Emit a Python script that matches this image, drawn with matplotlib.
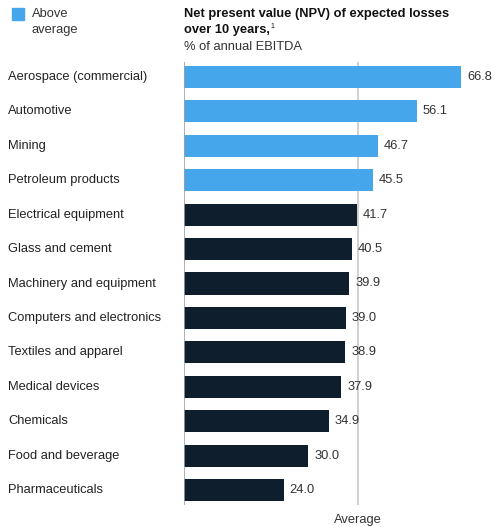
import numpy as np
import matplotlib.pyplot as plt

plt.rcParams['font.family'] = ['Liberation Sans', 'DejaVu Sans']

categories = ['Aerospace (commercial)', 'Automotive', 'Mining', 'Petroleum products',
              'Electrical equipment', 'Glass and cement', 'Machinery and equipment',
              'Computers and electronics', 'Textiles and apparel', 'Medical devices',
              'Chemicals', 'Food and beverage', 'Pharmaceuticals']
values = [66.8, 56.1, 46.7, 45.5, 41.7, 40.5, 39.9, 39.0, 38.9, 37.9, 34.9, 30.0, 24.0]
average = 42.0

blue = '#46A6EC'
dark = '#0E1E2D'
fs = 9.3

def main():
    fig = plt.figure(figsize=(4.97, 5.27), dpi=100)
    ax = fig.add_axes([184 / 497, 1 - 505 / 527, 1 - 184 / 497, (505 - 62) / 527])

    y = np.arange(len(categories))
    colors = [blue if v > average else dark for v in values]
    ax.barh(y, values, height=0.64, color=colors, zorder=2)
    ax.axvline(average, color='#C8C8C8', lw=1.2, zorder=1)
    ax.axvline(0, color='#A0A0A0', lw=1.2, zorder=3)

    for yi, v in zip(y, values):
        ax.text(v + 1.5, yi, '{:.1f}'.format(v), va='center', ha='left',
                fontsize=fs, color='#333333')
    for yi, c in zip(y, categories):
        ax.text(8 / 497, 1 - (77 + yi * 34.42) / 527, c, transform=fig.transFigure,
                va='center', ha='left', fontsize=fs, color='#222222')

    ax.set_xlim(0, (497 - 184) / 4.147)
    ax.set_ylim(12.436, -0.436)
    ax.axis('off')

    fig.text(358 / 497, 1 - 520 / 527, 'Average', ha='center', va='center',
             fontsize=fs, color='#333333')

    # titulo
    fig.text(184 / 497, 1 - 14 / 527, 'Net present value (NPV) of expected losses',
             fontsize=fs, fontweight='bold', va='center', ha='left', color='#111111')
    fig.text(184 / 497, 1 - 30 / 527, 'over 10 years,',
             fontsize=fs, fontweight='bold', va='center', ha='left', color='#111111')
    fig.text(270 / 497, 1 - 27 / 527, '1',
             fontsize=5, va='center', ha='left', color='#111111')
    fig.text(184 / 497, 1 - 47 / 527, '% of annual EBITDA',
             fontsize=fs, va='center', ha='left', color='#333333')

    # leyenda
    fig.patches.append(plt.Rectangle((12 / 497, 1 - 20 / 527), 12 / 497, 12 / 527,
                                     transform=fig.transFigure, color=blue))
    fig.text(32 / 497, 1 - 14 / 527, 'Above', fontsize=fs, va='center', color='#333333')
    fig.text(32 / 497, 1 - 30 / 527, 'average', fontsize=fs, va='center', color='#333333')

    fig.savefig('out.png', dpi=100)

if __name__ == '__main__':
    main()
